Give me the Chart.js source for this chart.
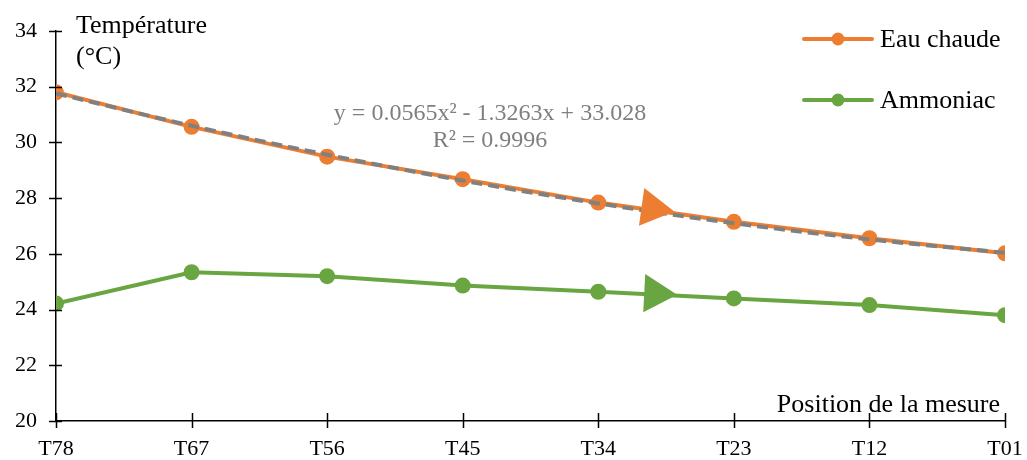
<!DOCTYPE html>
<html>
<head>
<meta charset="utf-8">
<script src="https://cdn.jsdelivr.net/npm/chart.js@4/dist/chart.umd.min.js"></script>
<style>
  html, body { margin: 0; padding: 0; background: #fff; }
  canvas { display: block; }
</style>
</head>
<body>
<canvas id="chart" width="1027" height="460"></canvas>
<script>
// Valeurs
const positions = ["T78", "T67", "T56", "T45", "T34", "T23", "T12", "T01"];
const eauChaude = [31.80, 30.56, 29.49, 28.68, 27.84, 27.15, 26.56, 26.02];
const ammoniac = [24.22, 25.34, 25.20, 24.86, 24.64, 24.40, 24.16, 23.80];
const tendance = [31.76, 30.60, 29.56, 28.63, 27.81, 27.10, 26.52, 26.04];
const flecheEau = { x: 4.40, y: 27.63 };
const flecheAmmo = { x: 4.42, y: 24.57 };
const yTicks = [20, 22, 24, 26, 28, 30, 32, 34];
const equation = "y = 0.0565x² - 1.3263x + 33.028";
const r2 = "R² = 0.9996";

const ORANGE = "#ED7D31";
const GREEN = "#69A540";
const GRAY = "#808080";
const FONT = "'Liberation Serif', 'Times New Roman', serif";

const toXY = (arr) => arr.map((v, i) => ({ x: i, y: v }));

// ticks qui traversent l'axe + titres + légende + équation
const decor = {
  id: "decor",
  afterDraw(chart) {
    const { ctx, chartArea, scales } = chart;
    const xs = scales.x, ys = scales.y;
    ctx.save();
    ctx.strokeStyle = "#000";
    ctx.lineWidth = 1.5;
    ctx.beginPath();
    yTicks.forEach((v) => {
      const py = Math.round(ys.getPixelForValue(v)) + 0.5;
      ctx.moveTo(chartArea.left - 7, py);
      ctx.lineTo(chartArea.left + 6, py);
    });
    positions.forEach((p, i) => {
      const px = Math.round(xs.getPixelForValue(i)) + 0.5;
      ctx.moveTo(px, chartArea.bottom - 8);
      ctx.lineTo(px, chartArea.bottom + 7);
    });
    ctx.stroke();

    ctx.fillStyle = "#000";
    ctx.font = "26px " + FONT;
    ctx.textBaseline = "alphabetic";
    ctx.textAlign = "left";
    ctx.fillText("Température", 76, 33);
    ctx.fillText("(°C)", 76, 64);
    ctx.textAlign = "right";
    ctx.fillText("Position de la mesure", 1000, 412);

    // équation de la courbe de tendance
    ctx.fillStyle = "#7F7F7F";
    ctx.font = "24px " + FONT;
    ctx.textAlign = "center";
    ctx.textBaseline = "middle";
    ctx.fillText(equation, 490, 114);
    ctx.fillText(r2, 490, 141);

    // légende
    const items = [
      { label: "Eau chaude", color: ORANGE, y: 39 },
      { label: "Ammoniac", color: GREEN, y: 100 },
    ];
    items.forEach((it) => {
      ctx.strokeStyle = it.color;
      ctx.lineWidth = 4;
      ctx.lineCap = "round";
      ctx.beginPath();
      ctx.moveTo(804, it.y);
      ctx.lineTo(872, it.y);
      ctx.stroke();
      ctx.fillStyle = it.color;
      ctx.beginPath();
      ctx.arc(838, it.y, 6.5, 0, Math.PI * 2);
      ctx.fill();
      ctx.fillStyle = "#000";
      ctx.font = "26px " + FONT;
      ctx.textAlign = "left";
      ctx.textBaseline = "middle";
      ctx.fillText(it.label, 880, it.y + 1);
    });
    ctx.restore();
  },
};

new Chart(document.getElementById("chart"), {
  type: "line",
  data: {
    datasets: [
      {
        label: "Flèche eau",
        data: [flecheEau],
        showLine: false,
        pointStyle: "triangle",
        pointRadius: 22,
        pointRotation: 98,
        backgroundColor: ORANGE,
        borderColor: ORANGE,
        borderWidth: 0,
        order: 0,
      },
      {
        label: "Flèche ammoniac",
        data: [flecheAmmo],
        showLine: false,
        pointStyle: "triangle",
        pointRadius: 22,
        pointRotation: 93,
        backgroundColor: GREEN,
        borderColor: GREEN,
        borderWidth: 0,
        order: 0,
      },
      {
        label: "Tendance",
        data: toXY(tendance),
        borderColor: GRAY,
        borderWidth: 4,
        borderDash: [11, 6],
        pointRadius: 0,
        tension: 0.4,
        cubicInterpolationMode: "monotone",
        order: 1,
      },
      {
        label: "Eau chaude",
        data: toXY(eauChaude),
        borderColor: ORANGE,
        backgroundColor: ORANGE,
        borderWidth: 4,
        pointRadius: 8,
        pointBorderWidth: 0,
        tension: 0,
        order: 2,
      },
      {
        label: "Ammoniac",
        data: toXY(ammoniac),
        borderColor: GREEN,
        backgroundColor: GREEN,
        borderWidth: 4,
        pointRadius: 8,
        pointBorderWidth: 0,
        tension: 0,
        order: 3,
      },
    ],
  },
  options: {
    responsive: false,
    animation: false,
    events: [],
    layout: { padding: { top: 31, right: 15, left: 0, bottom: 0 } },
    plugins: { legend: { display: false }, tooltip: { enabled: false } },
    scales: {
      x: {
        type: "linear",
        min: 0,
        max: 7,
        afterFit: (s) => { s.height = 39; s.paddingLeft = 0; s.paddingRight = 0; },
        afterBuildTicks: (s) => { s.ticks = positions.map((p, i) => ({ value: i })); },
        grid: { display: false, drawTicks: false },
        border: { display: true, color: "#000", width: 1.5 },
        ticks: {
          callback: (v) => positions[v],
          color: "#000",
          font: { family: FONT, size: 22 },
          padding: 15,
          maxRotation: 0,
          autoSkip: false,
        },
      },
      y: {
        min: 20,
        max: 34,
        afterFit: (s) => { s.width = 56; s.paddingTop = 0; s.paddingBottom = 0; },
        afterBuildTicks: (s) => { s.ticks = yTicks.map((v) => ({ value: v })); },
        grid: { display: false, drawTicks: false },
        border: { display: true, color: "#000", width: 1.5 },
        ticks: {
          color: "#000",
          font: { family: FONT, size: 22 },
          padding: 19,
        },
      },
    },
  },
  plugins: [decor],
});
</script>
</body>
</html>
